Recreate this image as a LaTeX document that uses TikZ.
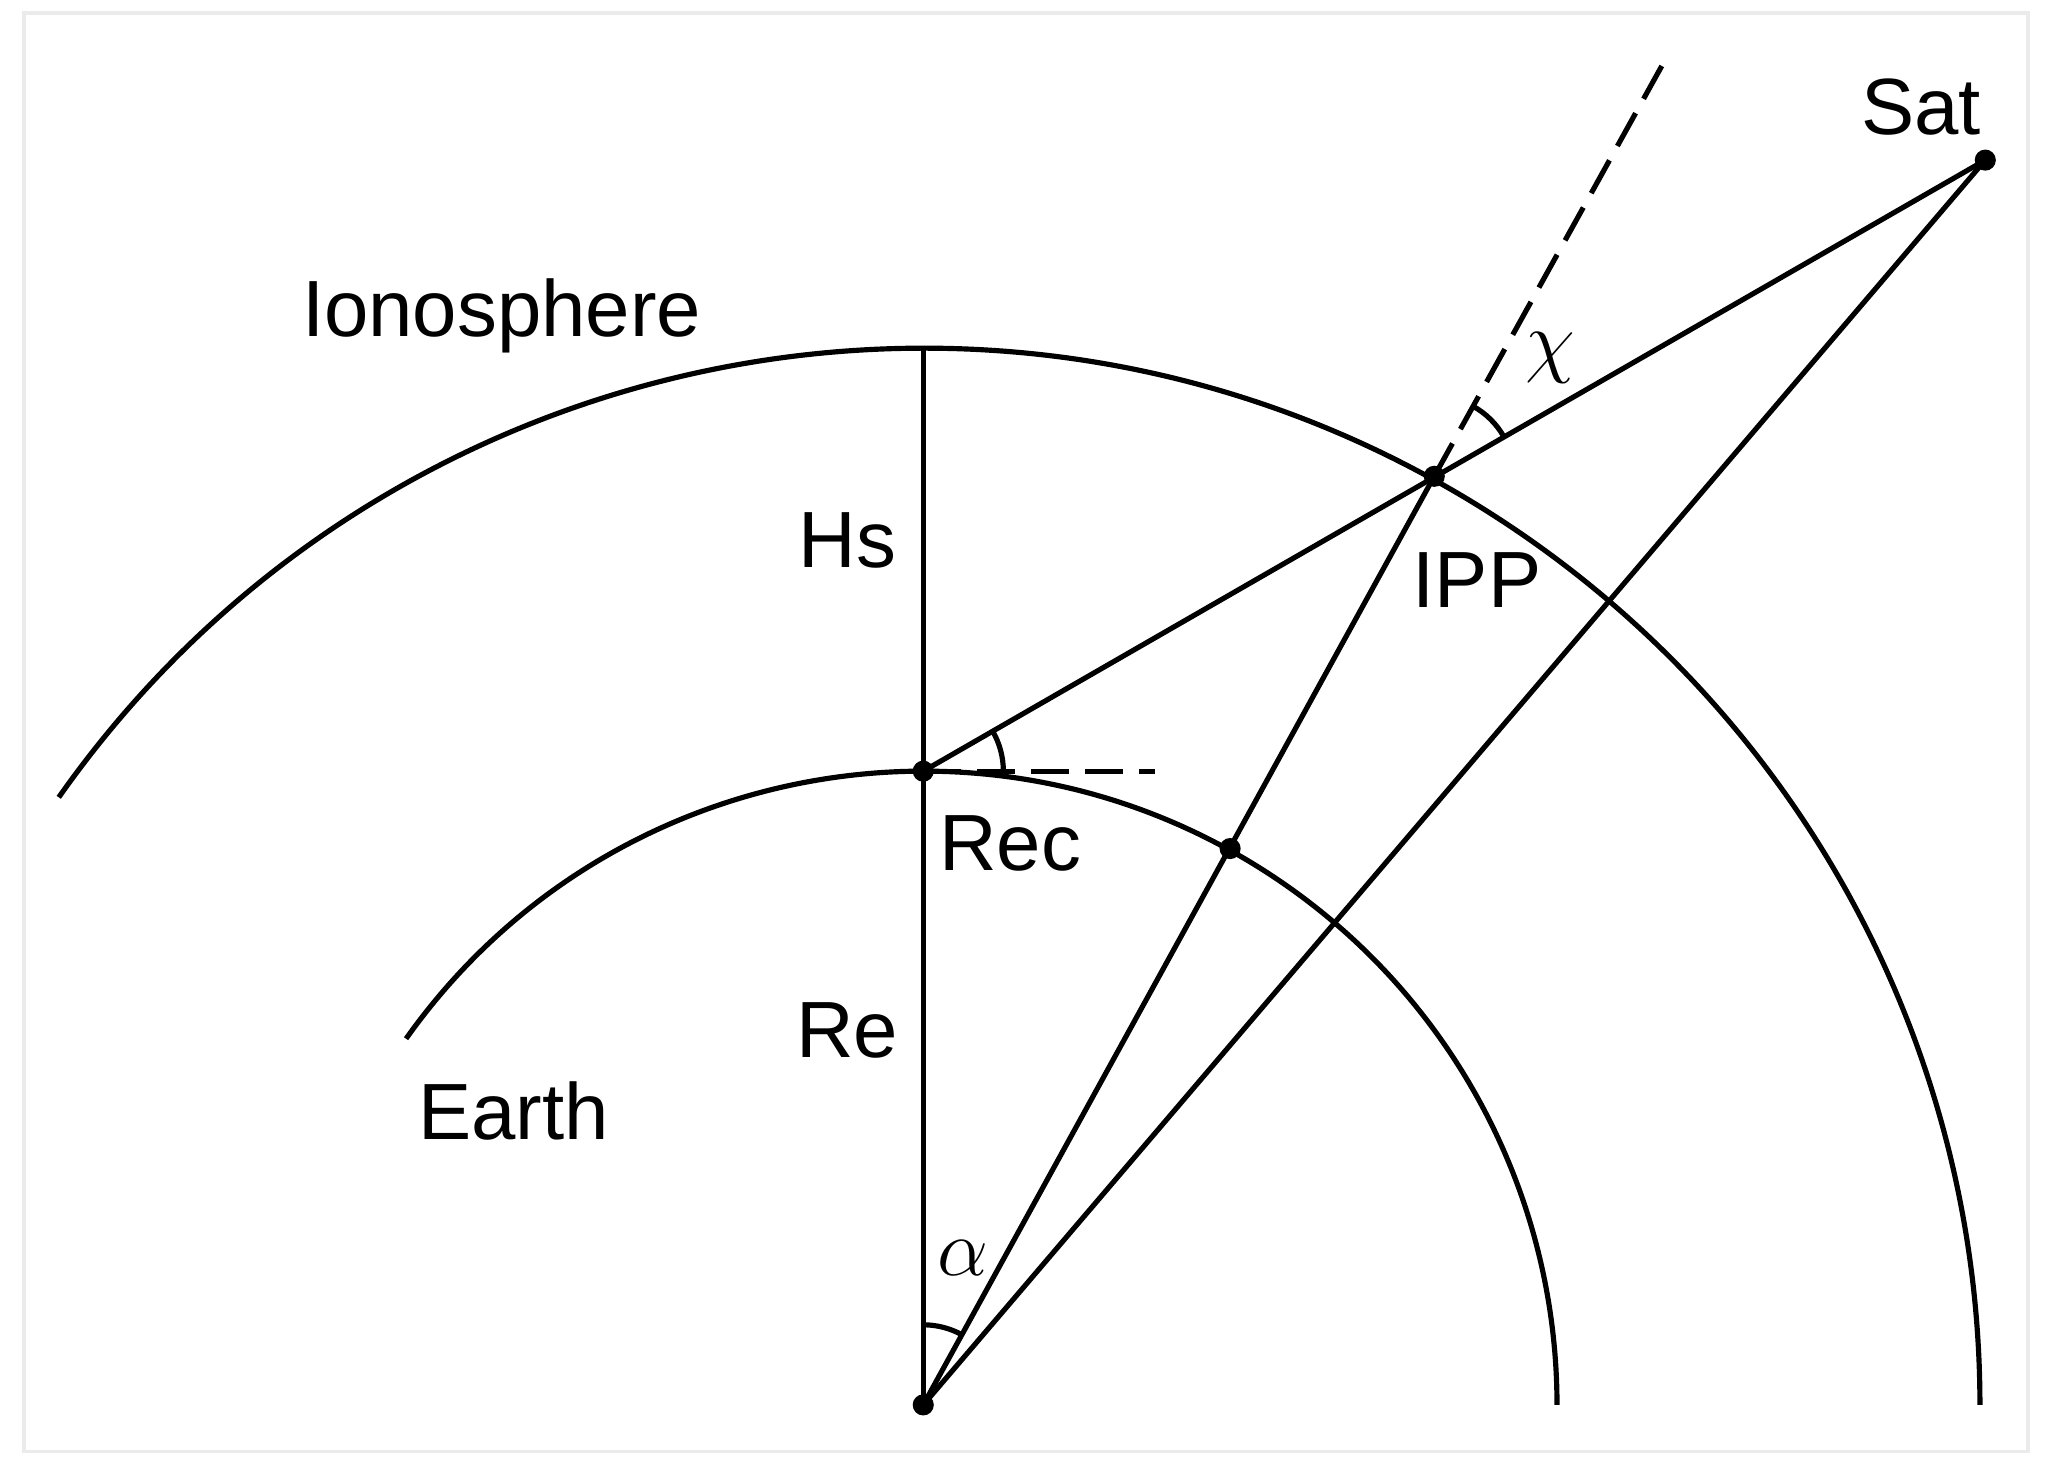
\documentclass[tikz,border=0pt]{standalone}
\usepackage{fontspec}
\setmainfont{Liberation Sans}
\usetikzlibrary{angles}
\begin{document}
\begin{tikzpicture}[x=0.01cm,y=0.01cm,line width=1.1pt,
  lbl/.style={font=\fontsize{17}{20}\selectfont, inner sep=0pt},
  dot/.style={circle,fill=black,inner sep=0pt,minimum size=4.5pt},
  dsh/.style={dash pattern=on 8pt off 3.5pt}]
\useasboundingbox (0,0) rectangle (1550,1096);
\draw[black!8,line width=0.8pt] (18,8) rectangle (1520,1086);
\coordinate (O) at (692,43);
\coordinate (Rec) at (692,518);
\coordinate (Top) at (692,834);
\coordinate (Sat) at (1488,976);
\coordinate (IPP) at (1075,739);
\coordinate (E) at (922,460);
\coordinate (H) at (866,518);
\coordinate (D) at (1248,1051);
\draw (O) ++(144.7:475) arc (144.7:0:475);
\draw (O) ++(144.9:792) arc (144.9:0:792);
\draw (O) -- (Top);
\draw (O) -- (IPP);
\draw (O) -- (Sat);
\draw (Rec) -- (Sat);
\draw[dsh] (Rec) -- (H);
\draw[dsh] (IPP) -- (D);
\draw pic[draw,angle radius=0.6cm] {angle=H--Rec--Sat};
\draw pic[draw,angle radius=0.6cm] {angle=IPP--O--Top};
\draw pic[draw,angle radius=0.6cm] {angle=Sat--IPP--D};
\node[dot] (o) at (O) {};
\node[dot] (r) at (Rec) {};
\node[dot] (s) at (Sat) {};
\node[dot] (i) at (IPP) {};
\node[dot] (e) at (E) {};
\node[lbl] at (376,859) {Ionosphere};
\node[lbl] at (635,691) {Hs};
\node[lbl] at (635,324) {Re};
\node[lbl] at (385,263) {Earth};
\node[lbl] at (1107,661) {IPP};
\node[lbl] at (757,464) {Rec};
\node[lbl] at (1440,1016) {Sat};
\node[lbl] at (1162,828) {$\chi$};
\node[lbl] at (722,153) {$\alpha$};
\end{tikzpicture}
\end{document}
